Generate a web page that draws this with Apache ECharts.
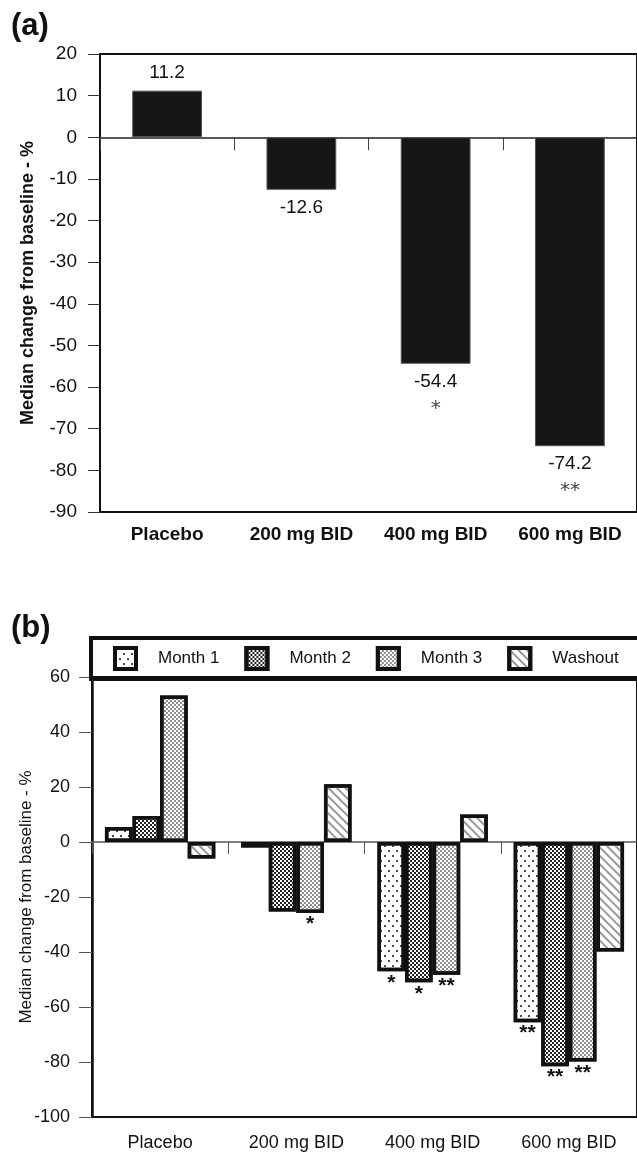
<!DOCTYPE html>
<html>
<head>
<meta charset="utf-8">
<script src="https://cdn.jsdelivr.net/npm/echarts@6/dist/echarts.min.js"></script>
<style>
  html, body { margin: 0; padding: 0; background: #fff; overflow: hidden; }
  #chart { width: 637px; height: 1153px; }
</style>
</head>
<body>
<div id="chart"></div>
<script>
var FONT = '"Liberation Sans", Arial, Helvetica, sans-serif';

var categories = ['Placebo', '200 mg BID', '400 mg BID', '600 mg BID'];

// panel (a): overall median change
var overallValues = [11.2, -12.6, -54.4, -74.2];
var overallMarks = ['', '', '*', '**'];
var ticksA = [20, 10, 0, -10, -20, -30, -40, -50, -60, -70, -80, -90];

// panel (b): by month
var monthNames = ['Month 1', 'Month 2', 'Month 3', 'Washout'];
var month1 = [5.5, -2, -47, -65.5];
var month2 = [9.5, -25.3, -51, -81.5];
var month3 = [53.3, -25.8, -48.3, -79.8];
var washout = [-6, 21, 10, -39.8];
var month1Marks = ['', '', '*', '**'];
var month2Marks = ['', '', '*', '**'];
var month3Marks = ['', '*', '**', '**'];
var washoutMarks = ['', '', '', ''];
var ticksB = [60, 40, 20, 0, -20, -40, -60, -80, -100];

var monthValues = [month1, month2, month3, washout];
var monthMarks = [month1Marks, month2Marks, month3Marks, washoutMarks];

// fill patterns, one per month
var decals = [
  { symbol: 'circle', symbolSize: 1, color: '#111', dashArrayX: [[1.6, 5.4], [0, 3.5, 1.6, 1.9]], dashArrayY: [1.6, 2.6] },
  { symbol: 'rect', symbolSize: 1, color: '#222', dashArrayX: [[1.5, 1.5], [0, 1.5, 1.5, 0]], dashArrayY: [1.5, 0] },
  { symbol: 'rect', symbolSize: 1, color: '#8f8f8f', dashArrayX: [[1.5, 1.5], [0, 1.5, 1.5, 0]], dashArrayY: [1.5, 0] },
  { symbol: 'rect', symbolSize: 1, color: '#9a9a9a', dashArrayX: [1, 0], dashArrayY: [1.5, 3.5], rotation: Math.PI / 4 }
];

var chart = echarts.init(document.getElementById('chart'));

var overallSeries = {
  type: 'bar',
  xAxisIndex: 0,
  yAxisIndex: 0,
  barWidth: '52%',
  data: overallValues.map(function (v) {
    return { value: v, label: { position: v >= 0 ? 'top' : 'bottom' } };
  }),
  itemStyle: { color: '#161616', borderColor: '#555', borderWidth: 1 },
  label: {
    show: true,
    distance: 6,
    formatter: function (p) {
      var mark = overallMarks[p.dataIndex];
      var txt = '{v|' + p.value + '}';
      if (mark) txt += '\n{s|' + mark + '}';
      return txt;
    },
    rich: {
      v: { fontFamily: FONT, fontSize: 19, color: '#111', lineHeight: 24 },
      s: { fontFamily: 'DejaVu Sans', fontSize: 20, color: '#444', lineHeight: 30 }
    }
  },
  emphasis: { disabled: true }
};

var monthSeries = monthValues.map(function (vals, i) {
  return {
    name: monthNames[i],
    type: 'bar',
    xAxisIndex: 2,
    yAxisIndex: 1,
    barGap: '0%',
    barCategoryGap: '19%',
    data: vals,
    itemStyle: { color: '#fff', borderColor: '#111', borderWidth: 3.5, decal: decals[i] },
    label: {
      show: true,
      position: 'bottom',
      distance: 1,
      formatter: function (p) { return monthMarks[i][p.dataIndex]; },
      fontFamily: FONT,
      fontWeight: 'bold',
      fontSize: 21,
      lineHeight: 21,
      color: '#111'
    },
    emphasis: { disabled: true }
  };
});

var option = {
  animation: false,
  graphic: [
    { type: 'text', left: 11, top: 11, style: { text: '(a)', font: 'bold 31px ' + FONT, fill: '#111' } },
    { type: 'text', left: 11, top: 613, style: { text: '(b)', font: 'bold 31px ' + FONT, fill: '#111' } }
  ],
  legend: {
    data: monthNames,
    left: 91,
    top: 638,
    width: 700,
    icon: 'rect',
    itemWidth: 21,
    itemHeight: 21,
    itemGap: 25,
    padding: [8, 60, 8, 22],
    borderColor: '#111',
    borderWidth: 4,
    selectedMode: false,
    itemStyle: { borderColor: '#111', borderWidth: 4 },
    textStyle: { fontFamily: FONT, fontSize: 17, color: '#111', width: 70, padding: [0, 0, 0, 17] }
  },
  grid: [
    { left: 100, top: 54, width: 544, height: 458, show: true, borderColor: '#111', borderWidth: 2 },
    { left: 92, top: 677, width: 552, height: 440, show: true, borderColor: '#111', borderWidth: 2 }
  ],
  xAxis: [
    {
      type: 'category', gridIndex: 0, data: categories, position: 'bottom',
      axisLine: { onZero: false, lineStyle: { color: '#111', width: 2 } },
      axisTick: { show: false },
      axisLabel: { interval: 0, fontFamily: FONT, fontWeight: 'bold', fontSize: 19, color: '#111', margin: 13 }
    },
    {
      type: 'category', gridIndex: 0, data: categories, position: 'top',
      axisLine: { onZero: true, lineStyle: { color: '#222', width: 1.5 } },
      axisTick: { show: true, inside: true, interval: 0, length: 13, lineStyle: { color: '#444', width: 1 } },
      axisLabel: { show: false }
    },
    {
      type: 'category', gridIndex: 1, data: categories, position: 'bottom',
      axisLine: { onZero: false, lineStyle: { color: '#111', width: 2 } },
      axisTick: { show: false },
      axisLabel: { interval: 0, fontFamily: FONT, fontSize: 18, color: '#111', margin: 17 }
    },
    {
      type: 'category', gridIndex: 1, data: categories, position: 'top',
      axisLine: { onZero: true, lineStyle: { color: '#555', width: 1.5 } },
      axisTick: { show: true, inside: true, interval: 0, length: 12, lineStyle: { color: '#555', width: 1 } },
      axisLabel: { show: false }
    }
  ],
  yAxis: [
    {
      type: 'value', gridIndex: 0,
      min: Math.min.apply(null, ticksA), max: Math.max.apply(null, ticksA), interval: 10,
      splitLine: { show: false },
      axisLine: { show: true, lineStyle: { color: '#111', width: 2 } },
      axisTick: { show: true, length: 12, lineStyle: { color: '#333', width: 1 } },
      axisLabel: { fontFamily: FONT, fontSize: 19, color: '#111', margin: 23 },
      name: 'Median change from baseline - %',
      nameLocation: 'middle',
      nameGap: 63,
      nameMoveOverlap: false,
      nameTextStyle: { fontFamily: FONT, fontWeight: 'bold', fontSize: 18, color: '#111' }
    },
    {
      type: 'value', gridIndex: 1,
      min: Math.min.apply(null, ticksB), max: Math.max.apply(null, ticksB), interval: 20,
      splitLine: { show: false },
      axisLine: { show: true, lineStyle: { color: '#111', width: 2.5 } },
      axisTick: { show: true, length: 13, lineStyle: { color: '#555', width: 1 } },
      axisLabel: { fontFamily: FONT, fontSize: 18, color: '#111', margin: 22 },
      name: 'Median change from baseline - %',
      nameLocation: 'middle',
      nameGap: 57,
      nameMoveOverlap: false,
      nameTextStyle: { fontFamily: FONT, fontSize: 17, color: '#111' }
    }
  ],
  series: [overallSeries].concat(monthSeries)
};

chart.setOption(option);
</script>
</body>
</html>
